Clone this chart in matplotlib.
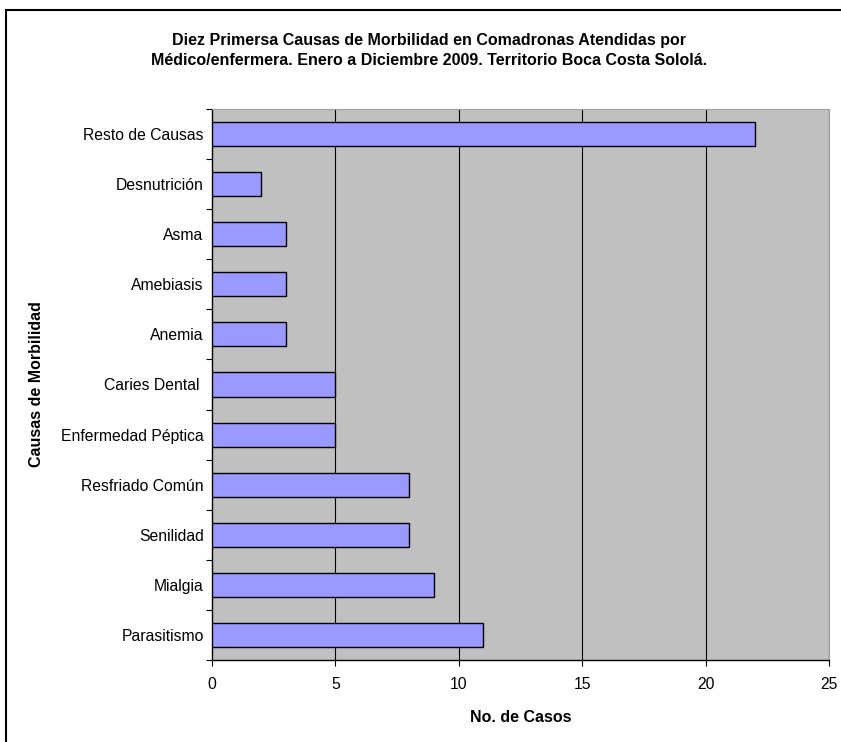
import matplotlib
matplotlib.use("Agg")
import matplotlib.pyplot as plt
from matplotlib.lines import Line2D
import numpy as np

categories = ["Parasitismo", "Mialgia", "Senilidad", "Resfriado Común",
              "Enfermedad Péptica", "Caries Dental ", "Anemia", "Amebiasis",
              "Asma", "Desnutrición", "Resto de Causas"]
values = [11, 9, 8, 8, 5, 5, 3, 3, 3, 2, 22]
xticks = [0, 5, 10, 15, 20, 25]
title = ("Diez Primersa Causas de Morbilidad en Comadronas Atendidas por\n"
         "Médico/enfermera. Enero a Diciembre 2009. Territorio Boca Costa Sololá.")

plt.rcParams['font.family'] = ['Liberation Sans', 'DejaVu Sans']

W, H = 841, 742
fig = plt.figure(figsize=(W / 100, H / 100), dpi=100)
fig.patch.set_facecolor('white')

x0, x1, y0, y1 = 212, 829, 109, 660
ax = fig.add_axes([x0 / W, 1 - y1 / H, (x1 - x0) / W, (y1 - y0) / H])
ax.set_facecolor('#C0C0C0')

y = np.arange(len(categories))
ax.barh(y, values, height=0.48, color='#9999FF', edgecolor='black',
        linewidth=1.0, zorder=3)

ax.set_xlim(0, 25)
ax.set_ylim(-0.5, len(categories) - 0.5)
ax.set_xticks(xticks)
ax.set_xticklabels([str(t) for t in xticks], fontsize=11.3)
for t in xticks[1:]:
    ax.axvline(t, color='black', linewidth=0.8, zorder=1)

ax.set_yticks(np.arange(-0.5, len(categories), 1.0))
ax.set_yticklabels([])
ax.set_yticks(y, minor=True)
ax.set_yticklabels(categories, minor=True, fontsize=11.3)
ax.tick_params(axis='y', which='major', length=4, width=0.8, direction='out')
ax.tick_params(axis='y', which='minor', length=0, pad=6)
ax.tick_params(axis='x', which='major', length=4, width=0.8, direction='out', pad=8)

for s in ['left', 'bottom']:
    ax.spines[s].set_color('black')
    ax.spines[s].set_linewidth(1.0)
for s in ['top', 'right']:
    ax.spines[s].set_color('#A0A0A0')
    ax.spines[s].set_linewidth(0.8)

ax.set_xlabel("No. de Casos", fontsize=11.5, fontweight='bold')
ax.set_ylabel("Causas de Morbilidad", fontsize=11.5, fontweight='bold')
ax.xaxis.label.set_verticalalignment('center')
ax.yaxis.label.set_verticalalignment('center')
ax.xaxis.set_label_coords(0.5, -(717 - y1) / (y1 - y0))
ax.yaxis.set_label_coords((37 - x0) / (x1 - x0), 0.5)

fig.text(429 / W, 1 - 50.5 / H, title, ha='center', va='center', fontsize=11.5,
         fontweight='bold', linespacing=1.35)

# outer chart border (top and left visible)
fig.add_artist(Line2D([6 / W, 6 / W], [0, 1 - 10 / H], color='black', linewidth=1.5,
                      transform=fig.transFigure))
fig.add_artist(Line2D([6 / W, 1], [1 - 10 / H, 1 - 10 / H], color='black', linewidth=1.5,
                      transform=fig.transFigure))

fig.savefig("out.png", dpi=100)
